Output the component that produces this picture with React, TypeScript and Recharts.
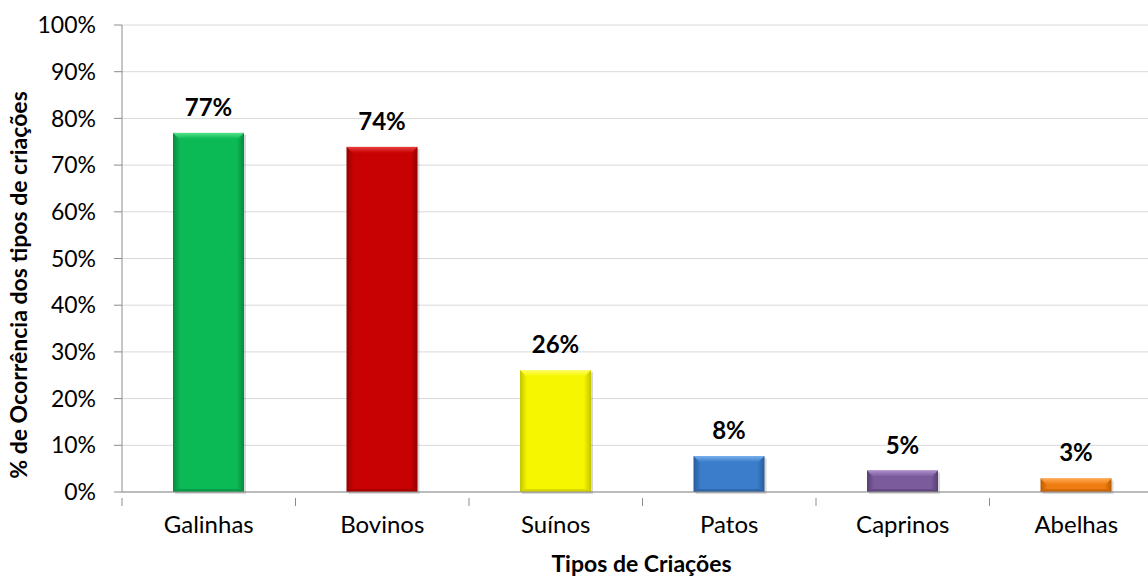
import React from "react";
import { Bar, BarChart, CartesianGrid, LabelList, XAxis, YAxis } from "recharts";

const categories = ["Galinhas", "Bovinos", "Suínos", "Patos", "Caprinos", "Abelhas"];
const occurrence = [0.769, 0.739, 0.261, 0.077, 0.046, 0.029];
const valueLabels = ["77%", "74%", "26%", "8%", "5%", "3%"];
const yTicks = [0, 0.1, 0.2, 0.3, 0.4, 0.5, 0.6, 0.7, 0.8, 0.9, 1];

const palette = ["#0bb955", "#c80202", "#f6f600", "#3b7dcb", "#7b5b9c", "#ef7d12"];
const paletteLight = ["#4fe486", "#e84040", "#ffff66", "#78b0ec", "#ad8dcc", "#ffab4f"];
const paletteDark = ["#078a3e", "#940000", "#c4c400", "#285c98", "#573f72", "#bb5c00"];

const FONT = "Lato, 'Open Sans', sans-serif";

const data = categories.map((name, i) => ({
  name,
  value: occurrence[i],
  label: valueLabels[i],
}));

const BevelBar = (props: any) => {
  const { x, y, width, height, index } = props;
  if (height <= 0) return null;
  const b = Math.min(6, height / 2);
  const id = `side-${index}`;
  const topId = `top-${index}`;
  return (
    <g>
      <defs>
        <linearGradient id={id} x1="0" y1="0" x2="1" y2="0">
          <stop offset="0%" stopColor={paletteDark[index]} />
          <stop offset="10%" stopColor={palette[index]} />
          <stop offset="90%" stopColor={palette[index]} />
          <stop offset="100%" stopColor={paletteDark[index]} />
        </linearGradient>
        <linearGradient id={topId} x1="0" y1="0" x2="0" y2="1">
          <stop offset="0%" stopColor={paletteLight[index]} />
          <stop offset="100%" stopColor={palette[index]} />
        </linearGradient>
      </defs>
      <rect x={x + 2} y={y + 2} width={width} height={height} fill="rgba(0,0,0,0.15)" />
      <rect x={x} y={y} width={width} height={height} fill={`url(#${id})`} />
      <polygon
        points={`${x},${y} ${x + width},${y} ${x + width - b},${y + b} ${x + b},${y + b}`}
        fill={`url(#${topId})`}
      />
      <polygon
        points={`${x},${y + height} ${x + width},${y + height} ${x + width - b},${y + height - b * 0.5} ${x + b},${y + height - b * 0.5}`}
        fill={paletteDark[index]}
        opacity={0.6}
      />
    </g>
  );
};

const CategoryTick = (props: any) => {
  const { x, y, payload, index } = props;
  const half = payload.offset ?? 0;
  return (
    <g>
      <line x1={x - half} y1={y - 8} x2={x - half} y2={y} stroke="#8c8c8c" />
      {index === categories.length - 1 && (
        <line x1={x + half} y1={y - 8} x2={x + half} y2={y} stroke="#8c8c8c" />
      )}
      <text x={x} y={y + 27} textAnchor="middle" fontFamily={FONT} fontSize={24} fill="#000">
        {payload.value}
      </text>
    </g>
  );
};

const ValueLabel = (props: any) => {
  const { x, y, width, value } = props;
  return (
    <text
      x={x + width / 2}
      y={y - 17}
      textAnchor="middle"
      fontFamily={FONT}
      fontWeight="bold"
      fontSize={24}
      fill="#000"
    >
      {value}
    </text>
  );
};

const XTitle = (props: any) => {
  const { viewBox } = props;
  return (
    <text
      x={viewBox.x + viewBox.width / 2 - 1}
      y={572}
      textAnchor="middle"
      fontFamily={FONT}
      fontWeight="bold"
      fontSize={23}
      fill="#000"
    >
      Tipos de Criações
    </text>
  );
};

const YTitle = () => (
  <text
    x={0}
    y={0}
    transform="translate(27, 285) rotate(-90)"
    textAnchor="middle"
    fontFamily={FONT}
    fontWeight="bold"
    fontSize={23}
    fill="#000"
  >
    % de Ocorrência dos tipos de criações
  </text>
);

export default function App() {
  return (
    <div
      style={{
        position: "absolute",
        left: 0,
        top: 0,
        width: 1148,
        height: 579,
        overflow: "hidden",
        background: "#fff",
      }}
    >
      <BarChart
        width={1175}
        height={579}
        data={data}
        margin={{ top: 25, right: 12, bottom: 0, left: 0 }}
        barSize={71}
      >
        <CartesianGrid vertical={false} stroke="#d9d9d9" />
        <XAxis
          dataKey="name"
          height={87}
          axisLine={{ stroke: "#8c8c8c" }}
          tickLine={false}
          interval={0}
          tick={<CategoryTick />}
          tickMargin={8}
          label={<XTitle />}
        />
        <YAxis
          width={122}
          domain={[0, 1]}
          ticks={yTicks}
          interval={0}
          tickFormatter={(v: number) => `${Math.round(v * 100)}%`}
          axisLine={{ stroke: "#8c8c8c" }}
          tickLine={{ stroke: "#8c8c8c" }}
          tickSize={8}
          tickMargin={18}
          tick={{ fontFamily: FONT, fontSize: 23, fill: "#000" }}
          label={<YTitle />}
        />
        <Bar dataKey="value" shape={<BevelBar />} isAnimationActive={false}>
          <LabelList dataKey="label" content={<ValueLabel />} />
        </Bar>
      </BarChart>
    </div>
  );
}
